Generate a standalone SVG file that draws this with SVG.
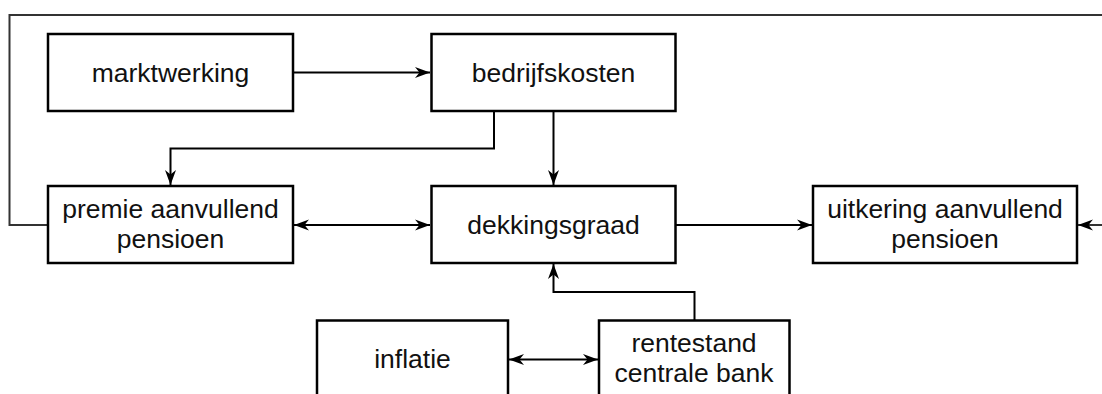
<svg xmlns="http://www.w3.org/2000/svg" width="1102" height="394" viewBox="0 0 1102 394">
<defs>
<style>
.box{fill:#fff;stroke:#000;stroke-width:2.5}
.lbl{font-family:"Liberation Sans",Arial,sans-serif;font-size:26.5px;fill:#111;text-anchor:middle}
.con{fill:none;stroke:#000;stroke-width:2}
.loop{fill:none;stroke:#333;stroke-width:2}
</style>
<marker id="ah" markerUnits="userSpaceOnUse" markerWidth="16" markerHeight="12" viewBox="0 0 16 12" refX="15" refY="6" orient="auto-start-reverse">
<path d="M0,0.5 L15,6 L0,11.5 L4.5,6 z" fill="#000"/>
</marker>
</defs>
<g id="connectors">
<path class="loop" d="M48,225 H9.5 V15 H1120 V225 H1078" marker-end="url(#ah)"/>
<path class="con" d="M293,72.5 H430" marker-end="url(#ah)"/>
<path class="con" d="M494,111 V148.5 H170.5 V185" marker-end="url(#ah)"/>
<path class="con" d="M553.5,111 V185" marker-end="url(#ah)"/>
<path class="con" d="M294,225 H430" marker-start="url(#ah)" marker-end="url(#ah)"/>
<path class="con" d="M676,225 H812" marker-end="url(#ah)"/>
<path class="con" d="M694.5,320 V292 H553.5 V264" marker-end="url(#ah)"/>
<path class="con" d="M509,359.5 H598" marker-start="url(#ah)" marker-end="url(#ah)"/>
</g>
<g id="marktwerking">
<rect class="box" x="48" y="34" width="245" height="77"/>
<text class="lbl" x="170.5" y="82">marktwerking</text>
</g>
<g id="bedrijfskosten">
<rect class="box" x="431.5" y="34" width="244" height="77"/>
<text class="lbl" x="553.5" y="82">bedrijfskosten</text>
</g>
<g id="premie">
<rect class="box" x="48" y="186" width="245" height="77"/>
<text class="lbl" x="170.5" y="217.5">premie aanvullend</text>
<text class="lbl" x="170.5" y="247.5">pensioen</text>
</g>
<g id="dekkingsgraad">
<rect class="box" x="431.5" y="186" width="244" height="77"/>
<text class="lbl" x="553.5" y="234">dekkingsgraad</text>
</g>
<g id="uitkering">
<rect class="box" x="813" y="186" width="264" height="77"/>
<text class="lbl" x="945" y="217.5">uitkering aanvullend</text>
<text class="lbl" x="945" y="247.5">pensioen</text>
</g>
<g id="inflatie">
<rect class="box" x="317" y="320.5" width="191" height="77"/>
<text class="lbl" x="412.5" y="368">inflatie</text>
</g>
<g id="rentestand">
<rect class="box" x="599" y="320.5" width="190.5" height="77"/>
<text class="lbl" x="694" y="351.5">rentestand</text>
<text class="lbl" x="694" y="381.5">centrale bank</text>
</g>
</svg>
